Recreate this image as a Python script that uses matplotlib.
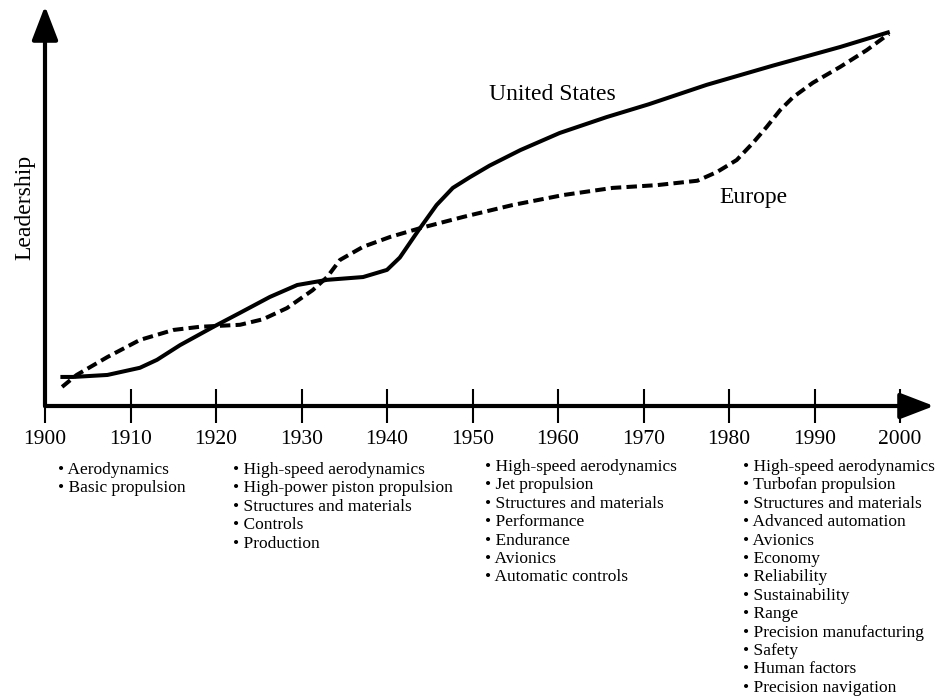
"""Leadership in aeronautics, United States vs. Europe, 1900-2000."""

import matplotlib
matplotlib.use("Agg")
import matplotlib.pyplot as plt

plt.rcParams["font.family"] = ["Liberation Serif", "DejaVu Serif"]

# curves (year, relative leadership 0-100)
us_years = [1901.8, 1903.3, 1907.3, 1911.1, 1913.1, 1915.8, 1919.7, 1922.8,
            1926.3, 1929.5, 1933.0, 1937.2, 1940.0, 1941.5, 1943.7, 1945.8,
            1947.7, 1949.7, 1952.0, 1955.6, 1960.2, 1965.7, 1970.6, 1977.4,
            1985.1, 1993.0, 1998.8]
us_lead = [7.3, 7.3, 7.8, 9.6, 11.6, 15.3, 19.9, 23.4,
           27.4, 30.4, 31.7, 32.4, 34.2, 37.3, 44.2, 50.5,
           54.8, 57.5, 60.4, 64.3, 68.6, 72.6, 75.8, 80.7,
           85.5, 90.2, 94.0]

eu_years = [1902.0, 1903.7, 1907.3, 1911.1, 1915.0, 1918.1, 1922.8, 1925.5,
            1928.3, 1931.3, 1933.0, 1934.5, 1937.2, 1940.4, 1943.9, 1948.9,
            1954.7, 1960.6, 1966.4, 1971.6, 1976.3, 1978.6, 1980.9, 1982.8,
            1984.4, 1986.0, 1987.5, 1989.8, 1993.0, 1996.1, 1998.7]
eu_lead = [4.8, 7.8, 12.3, 16.6, 19.1, 19.9, 20.4, 21.8,
           24.6, 29.1, 32.4, 36.7, 40.0, 42.5, 44.7, 47.5,
           50.5, 53.0, 54.8, 55.5, 56.6, 58.8, 61.8, 66.1,
           70.1, 74.4, 77.6, 81.2, 85.2, 89.4, 93.5]

decades = list(range(1900, 2001, 10))

era_1900 = ["Aerodynamics", "Basic propulsion"]
era_1920 = ["High-speed aerodynamics", "High-power piston propulsion",
            "Structures and materials", "Controls", "Production"]
era_1950 = ["High-speed aerodynamics", "Jet propulsion",
            "Structures and materials", "Performance", "Endurance",
            "Avionics", "Automatic controls"]
era_1980 = ["High-speed aerodynamics", "Turbofan propulsion",
            "Structures and materials", "Advanced automation", "Avionics",
            "Economy", "Reliability", "Sustainability", "Range",
            "Precision manufacturing", "Safety", "Human factors",
            "Precision navigation"]

W, H = 935, 698
fig = plt.figure(figsize=(W / 100, H / 100), dpi=100)
ax = fig.add_axes([45 / W, (H - 406) / H, 855 / W, 398 / H])
ax.set_xlim(1900, 2000)
ax.set_ylim(0, 100)
for s in ax.spines.values():
    s.set_visible(False)

ax.plot(us_years, us_lead, color="black", lw=2.9, solid_capstyle="butt",
        solid_joinstyle="round", clip_on=False)
ax.plot(eu_years, eu_lead, color="black", lw=2.9, linestyle=(0, (2.6, 1.3)),
        dash_joinstyle="round", clip_on=False)

# axes drawn as arrows
arrow = dict(arrowstyle="-|>,head_length=1.3,head_width=0.5", color="black",
             lw=3.0, shrinkA=0, shrinkB=0, mutation_scale=16)
ax.annotate("", xy=(0, 1.005), xytext=(0, 0), xycoords="axes fraction",
            textcoords="axes fraction", arrowprops=arrow, annotation_clip=False)
ax.annotate("", xy=(889 / 855, 0), xytext=(0, 0), xycoords="axes fraction",
            textcoords="axes fraction", arrowprops=arrow, annotation_clip=False)

ax.set_xticks(decades)
ax.set_xticklabels([str(d) for d in decades], fontsize=15.5)
ax.set_yticks([])
ax.tick_params(axis="x", direction="inout", length=24, width=1.5, pad=5)

ax.set_ylabel("Leadership", fontsize=17, labelpad=7)

fig.text(552 / W, 1 - 95 / H, "United States", fontsize=17,
         ha="center", va="center")
fig.text(753 / W, 1 - 198 / H, "Europe", fontsize=17,
         ha="center", va="center")

# technology lists under the time axis
columns = [(58, 470, era_1900), (233, 470, era_1920),
           (485, 467, era_1950), (743, 467, era_1980)]
for x0, y0, items in columns:
    for i, item in enumerate(items):
        fig.text(x0 / W, 1 - (y0 + i * 18.4) / H, "\u2022 " + item,
                 fontsize=12.5, ha="left", va="center")

fig.savefig("out.png", dpi=100)
